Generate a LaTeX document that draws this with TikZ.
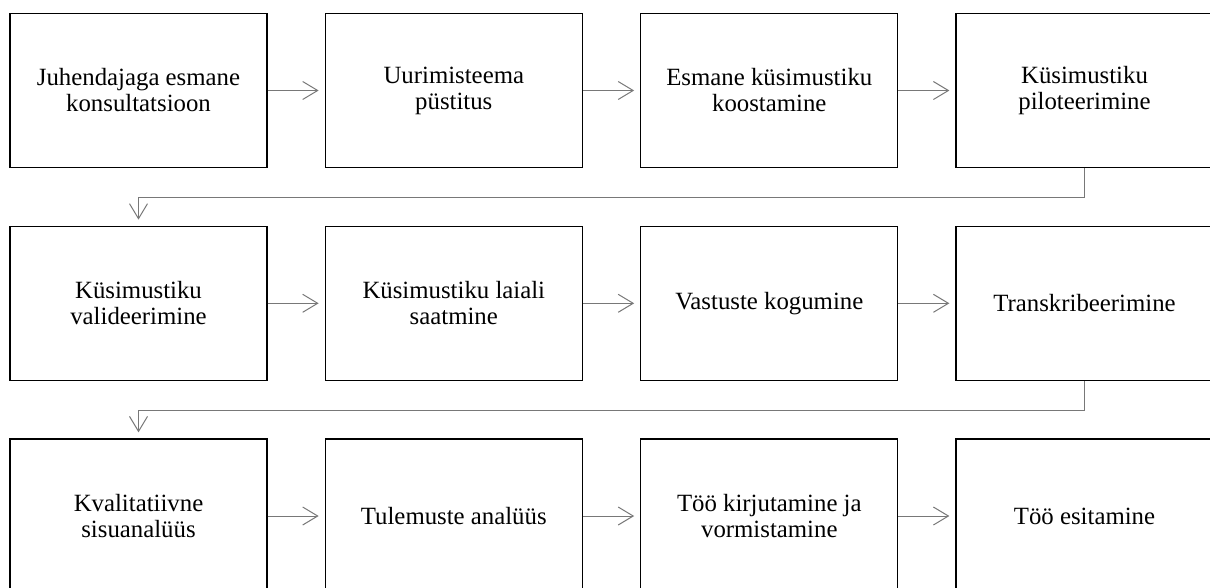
\documentclass[tikz,border=0pt]{standalone}
\usepackage{fontspec}
\setmainfont{Liberation Serif}
\usetikzlibrary{arrows.meta}
\definecolor{conngray}{RGB}{120,120,120}
\tikzset{
  stepbox/.style={draw=black, line width=1.3pt, rectangle, minimum width=257pt, minimum height=154pt,
    inner sep=0pt, align=center, font=\fontsize{24.8pt}{26pt}\selectfont},
  conn/.style={draw=conngray, line width=1pt, shorten >=6pt,
    -{Straight Barb[length=15pt,width=18pt,line width=1pt]}},
}
\begin{document}
\begin{tikzpicture}[x=1pt,y=-1pt]
\useasboundingbox (0,0) rectangle (1210,587);
\fill[white] (0,0) rectangle (1210,587);
% row 1
\node[stepbox] (a1) at (138.5,90.5) {Juhendajaga esmane\\konsultatsioon};
\node[stepbox] (a2) at (453.8,90.5) {Uurimisteema\\püstitus};
\node[stepbox] (a3) at (769.3,90.5) {Esmane küsimustiku\\koostamine};
\node[stepbox] (a4) at (1084.5,90.5) {Küsimustiku\\piloteerimine};
% row 2
\node[stepbox] (b1) at (138.5,303.3) {Küsimustiku\\valideerimine};
\node[stepbox] (b2) at (453.8,303.3) {Küsimustiku laiali\\saatmine};
\node[stepbox] (b3) at (769.3,303.3) {Vastuste kogumine};
\node[stepbox] (b4) at (1084.5,303.3) {Transkribeerimine};
% row 3
\node[stepbox] (c1) at (138.5,516) {Kvalitatiivne\\sisuanalüüs};
\node[stepbox] (c2) at (453.8,516) {Tulemuste analüüs};
\node[stepbox] (c3) at (769.3,516) {Töö kirjutamine ja\\vormistamine};
\node[stepbox] (c4) at (1084.5,516) {Töö esitamine};
% horizontal connectors
\foreach \r in {a,b,c}{
  \draw[conn] (\r1.east) -- (\r2.west);
  \draw[conn] (\r2.east) -- (\r3.west);
  \draw[conn] (\r3.east) -- (\r4.west);
}
% row-to-row connectors
\coordinate (k1) at (0,197.3);
\coordinate (k2) at (0,410);
\draw[conn] (a4.south) -- (a4.south |- k1) -| (b1.north);
\draw[conn] (b4.south) -- (b4.south |- k2) -| (c1.north);
\end{tikzpicture}
\end{document}
